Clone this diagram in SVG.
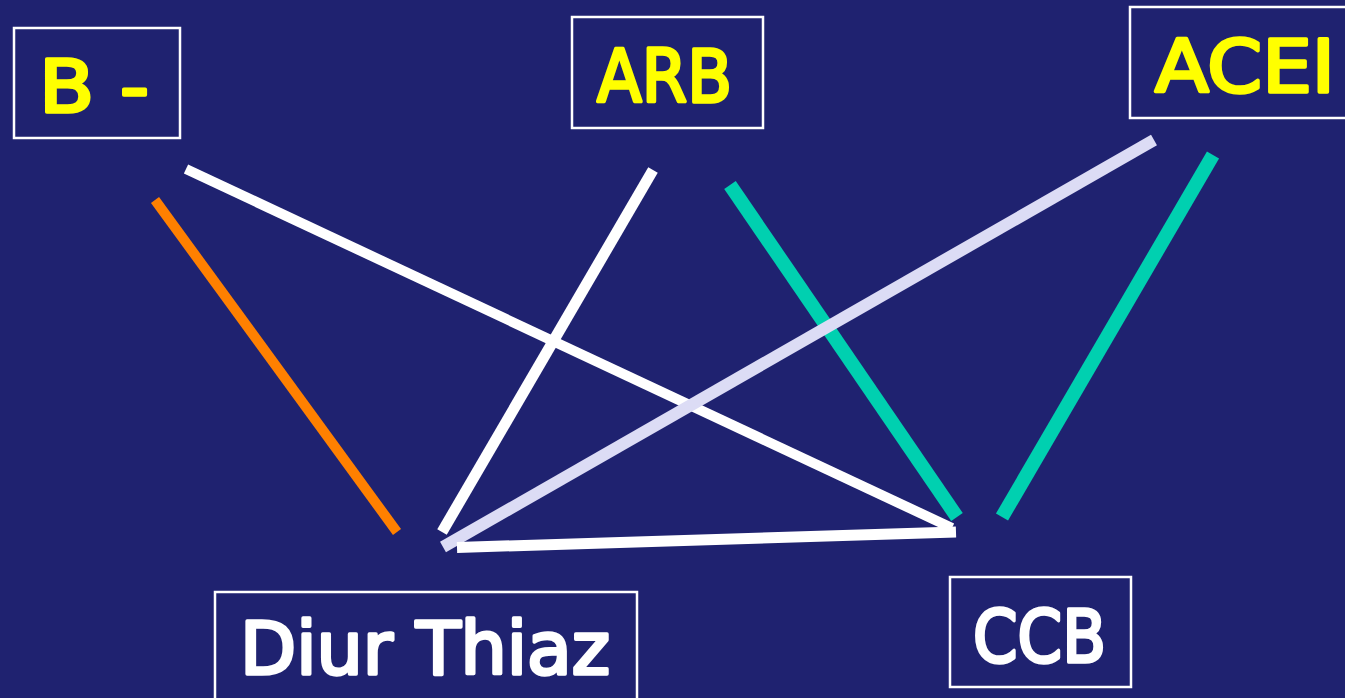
<svg xmlns="http://www.w3.org/2000/svg" width="1345" height="698" viewBox="0 0 1345 698">
  <style>
    .box { fill: none; stroke: #ffffff; stroke-width: 2.5; }
    .lbl { font-family: "DejaVu Sans", "Liberation Sans", sans-serif; font-weight: normal; font-size: 73px; stroke-width: 3.5; stroke-linejoin: round; stroke-linecap: round; }
    .yel { fill: #ffff00; stroke: #ffff00; }
    .wht { fill: #ffffff; stroke: #ffffff; }
    .link { fill: none; stroke-linecap: butt; }
  </style>
  <rect x="0" y="0" width="1345" height="698" fill="#1f2270"/>

  <g id="connectors">
    <line class="link" x1="155" y1="200" x2="397" y2="532" stroke="#ff8000" stroke-width="10"/>
    <line class="link" x1="186" y1="169" x2="952" y2="528" stroke="#ffffff" stroke-width="10"/>
    <line class="link" x1="653" y1="170" x2="442" y2="532" stroke="#ffffff" stroke-width="11"/>
    <line class="link" x1="730" y1="185" x2="957" y2="517" stroke="#00d0b0" stroke-width="14"/>
    <line class="link" x1="1154" y1="140" x2="443" y2="547" stroke="#dcdcf5" stroke-width="12"/>
    <line class="link" x1="1213" y1="155" x2="1002" y2="517" stroke="#00d0b0" stroke-width="14"/>
    <line class="link" x1="457" y1="547.5" x2="956" y2="532" stroke="#ffffff" stroke-width="11"/>
  </g>

  <g id="node-beta">
    <rect class="box" x="14" y="28" width="166" height="110"/>
    <text class="lbl yel" x="39" y="112" textLength="110" lengthAdjust="spacingAndGlyphs">B -</text>
  </g>

  <g id="node-arb">
    <rect class="box" x="572" y="17" width="191" height="111"/>
    <text class="lbl yel" x="597" y="102" textLength="135" lengthAdjust="spacingAndGlyphs">ARB</text>
  </g>

  <g id="node-acei">
    <rect class="box" x="1130" y="7" width="230" height="111"/>
    <text class="lbl yel" x="1155" y="92" textLength="180" lengthAdjust="spacingAndGlyphs">ACEI</text>
  </g>

  <g id="node-diur">
    <rect class="box" x="215" y="592" width="422" height="120"/>
    <text class="lbl wht" x="240" y="674" textLength="370" lengthAdjust="spacingAndGlyphs">Diur Thiaz</text>
  </g>

  <g id="node-ccb">
    <rect class="box" x="950" y="577" width="181" height="110"/>
    <text class="lbl wht" x="973" y="662" textLength="133" lengthAdjust="spacingAndGlyphs">CCB</text>
  </g>
</svg>
